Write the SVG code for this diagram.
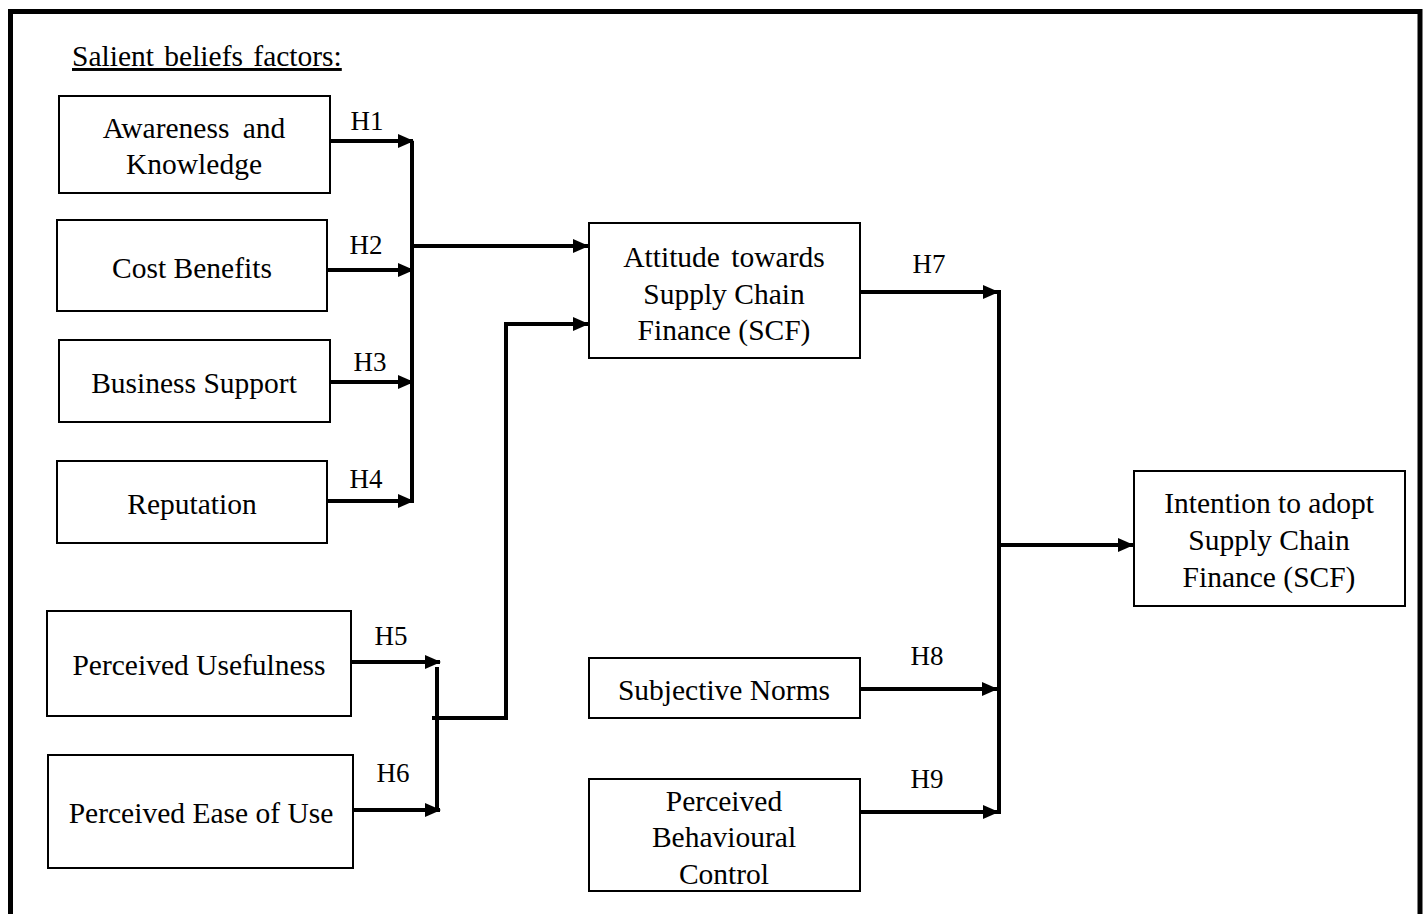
<svg xmlns="http://www.w3.org/2000/svg" width="1424" height="914" viewBox="0 0 1424 914">
<defs>
<marker id="arr" markerUnits="userSpaceOnUse" markerWidth="16" markerHeight="14" refX="15" refY="7" orient="auto">
<path d="M0,0 L16,7 L0,14 Z" fill="#000"/>
</marker>
<style>
.box{fill:#fff;stroke:#000;stroke-width:2}
.t{font-family:"Liberation Serif","Times New Roman",serif;font-size:29.5px;fill:#000;text-anchor:middle}
.h{font-family:"Liberation Serif","Times New Roman",serif;font-size:27px;fill:#000;text-anchor:middle}
.c{fill:none;stroke:#000;stroke-width:4}
</style>
</defs>
<rect width="1424" height="914" fill="#fff"/>
<path d="M10.5,914 V11.5 H1420 V914" fill="none" stroke="#000" stroke-width="5"/>
<text x="72" y="66" font-family="'Liberation Serif','Times New Roman',serif" font-size="29.5" text-decoration="underline" word-spacing="3">Salient beliefs factors:</text>

<g id="connectors">
<path class="c" d="M330,141 H413" marker-end="url(#arr)"/>
<path class="c" d="M327,270 H413" marker-end="url(#arr)"/>
<path class="c" d="M330,382 H413" marker-end="url(#arr)"/>
<path class="c" d="M327,501 H413" marker-end="url(#arr)"/>
<path class="c" d="M412,141 V503"/>
<path class="c" d="M412,246 H588" marker-end="url(#arr)"/>
<path class="c" d="M351,662 H440" marker-end="url(#arr)"/>
<path class="c" d="M353,810 H440" marker-end="url(#arr)"/>
<path class="c" d="M437,667 V812"/>
<path class="c" d="M432,718 H506 V324 H588" marker-end="url(#arr)"/>
<path class="c" d="M860,292 H998" marker-end="url(#arr)"/>
<path class="c" d="M860,689 H997" marker-end="url(#arr)"/>
<path class="c" d="M860,812 H998" marker-end="url(#arr)"/>
<path class="c" d="M999,290 V814"/>
<path class="c" d="M999,545 H1133" marker-end="url(#arr)"/>
<text class="h" x="367" y="130">H1</text>
<text class="h" x="366" y="254">H2</text>
<text class="h" x="370" y="371">H3</text>
<text class="h" x="366" y="488">H4</text>
<text class="h" x="391" y="645">H5</text>
<text class="h" x="393" y="782">H6</text>
<text class="h" x="929" y="273">H7</text>
<text class="h" x="927" y="665">H8</text>
<text class="h" x="927" y="788">H9</text>
</g>

<g id="awareness">
<rect class="box" x="59" y="96" width="271" height="97"/>
<text class="t" x="194" y="138" word-spacing="6">Awareness and</text>
<text class="t" x="194" y="174">Knowledge</text>
</g>
<g id="cost">
<rect class="box" x="57" y="220" width="270" height="91"/>
<text class="t" x="192" y="278">Cost Benefits</text>
</g>
<g id="business">
<rect class="box" x="59" y="340" width="271" height="82"/>
<text class="t" x="194" y="393">Business Support</text>
</g>
<g id="reputation">
<rect class="box" x="57" y="461" width="270" height="82"/>
<text class="t" x="192" y="514">Reputation</text>
</g>
<g id="usefulness">
<rect class="box" x="47" y="611" width="304" height="105"/>
<text class="t" x="199" y="675">Perceived Usefulness</text>
</g>
<g id="ease">
<rect class="box" x="48" y="755" width="305" height="113"/>
<text class="t" x="201" y="823">Perceived Ease of Use</text>
</g>
<g id="attitude">
<rect class="box" x="589" y="223" width="271" height="135"/>
<text class="t" x="724" y="267" word-spacing="4">Attitude towards</text>
<text class="t" x="724" y="304">Supply Chain</text>
<text class="t" x="724" y="340">Finance (SCF)</text>
</g>
<g id="norms">
<rect class="box" x="589" y="658" width="271" height="60"/>
<text class="t" x="724" y="700">Subjective Norms</text>
</g>
<g id="pbc">
<rect class="box" x="589" y="779" width="271" height="112"/>
<text class="t" x="724" y="811">Perceived</text>
<text class="t" x="724" y="847">Behavioural</text>
<text class="t" x="724" y="884">Control</text>
</g>
<g id="intention">
<rect class="box" x="1134" y="471" width="271" height="135"/>
<text class="t" x="1269" y="513">Intention to adopt</text>
<text class="t" x="1269" y="550">Supply Chain</text>
<text class="t" x="1269" y="587">Finance (SCF)</text>
</g>
</svg>
